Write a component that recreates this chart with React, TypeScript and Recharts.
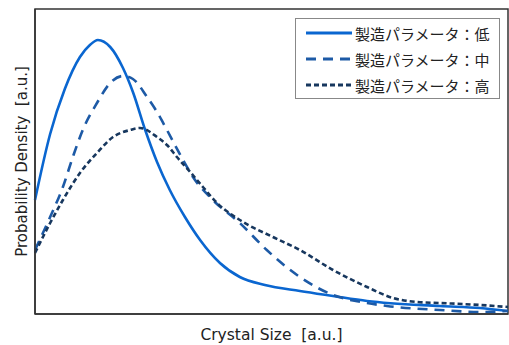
import { LineChart, Line, XAxis, YAxis, ReferenceArea } from 'recharts';

// crystal size (a.u.) and probability density (a.u.) for each process parameter level
const lowSize = [0, 0.32, 0.63, 0.95, 1.16, 1.33, 1.59, 1.86, 2.07, 2.33, 2.58, 2.85, 3.17, 3.49, 3.91, 4.33, 4.86, 5.6, 6.3, 7.02, 8.56, 9.41, 10];
const lowDensity = [114, 180, 225, 257, 269, 274, 267, 246, 222, 184, 152, 124, 97, 74, 51, 37, 29, 23, 18, 13, 8, 6, 3];

const midSize = [0, 0.32, 0.59, 0.8, 1.01, 1.31, 1.59, 1.86, 2.07, 2.37, 2.58, 2.79, 3.13, 3.34, 3.76, 4.33, 4.9, 5.6, 6.3, 7.02, 7.44, 8.56, 9.41, 10];
const midDensity = [64, 97, 127, 157, 184, 211, 231, 238, 235, 217, 202, 184, 154, 137, 114, 91, 64, 37, 19, 11, 8, 4, 2, 3];

const highSize = [0, 0.32, 0.59, 0.95, 1.31, 1.65, 2.01, 2.22, 2.58, 2.79, 3.0, 3.28, 3.55, 3.85, 4.33, 5.03, 5.6, 6.3, 7.02, 7.57, 8.08, 8.56, 9.41, 10];
const highDensity = [61, 91, 114, 141, 161, 177, 184, 186, 177, 169, 157, 142, 127, 111, 94, 77, 64, 44, 27, 16, 12, 11, 9, 7];

const series = [
    { key: 'low', name: '製造パラメータ：低', color: '#0a66d0', dash: undefined, sizes: lowSize, values: lowDensity },
    { key: 'mid', name: '製造パラメータ：中', color: '#1d5aa6', dash: '10 7', sizes: midSize, values: midDensity },
    { key: 'high', name: '製造パラメータ：高', color: '#17375e', dash: '5 3', sizes: highSize, values: highDensity },
];

const font = '"Open Sans", "Noto Sans CJK JP", sans-serif';
const axisFont = '"DejaVu Sans", sans-serif';

function LegendBox() {
    return (
        <div
            style={{
                position: 'absolute',
                left: 295,
                top: 18,
                width: 205,
                height: 81,
                border: '1px solid #888',
                background: '#fff',
                boxSizing: 'border-box',
                fontFamily: font,
                fontSize: 15,
                color: '#222',
            }}
        >
            {series.map((s, i) => (
                <div key={s.key} style={{ position: 'absolute', left: 10, top: 3 + i * 26, height: 22, display: 'flex', alignItems: 'center' }}>
                    <svg width={46} height={6}>
                        <line x1={0} y1={3} x2={46} y2={3} stroke={s.color} strokeWidth={3} strokeDasharray={s.dash} />
                    </svg>
                    <span style={{ marginLeft: 3, whiteSpace: 'nowrap' }}>{s.name}</span>
                </div>
            ))}
        </div>
    );
}

const YLabel = ({ viewBox }: any) => {
    const cx = 22;
    const cy = viewBox.y + viewBox.height / 2;
    return (
        <text x={cx} y={cy} transform={`rotate(-90 ${cx} ${cy})`} textAnchor="middle" dominantBaseline="central" fill="#222" fontSize={15} fontFamily={axisFont}>
            {'Probability Density\u00a0\u00a0[a.u.]'}
        </text>
    );
};

export default function App() {
    return (
        <div style={{ position: 'absolute', left: 0, top: 0, width: 509, height: 345, background: '#fff' }}>
            <LineChart width={509} height={345} margin={{ top: 9, right: 1, left: 0, bottom: 0 }}>
                <XAxis
                    dataKey="x"
                    type="number"
                    domain={[0, 10]}
                    tick={false}
                    tickLine={false}
                    height={31}
                    axisLine={{ stroke: '#333', strokeWidth: 1.5 }}
                    label={{ value: 'Crystal Size\u00a0\u00a0[a.u.]', position: 'insideBottom', offset: 5, fill: '#222', fontSize: 15.5, fontFamily: axisFont }}
                />
                <YAxis
                    type="number"
                    domain={[0, 305]}
                    tick={false}
                    tickLine={false}
                    width={35}
                    axisLine={{ stroke: '#333', strokeWidth: 1.5 }}
                    label={<YLabel />}
                />
                <ReferenceArea x1={0} x2={10} y1={0} y2={305} fill="none" stroke="#333" strokeWidth={1.5} />
                {series.map((s) => (
                    <Line
                        key={s.key}
                        data={s.sizes.map((x, i) => ({ x, y: s.values[i] }))}
                        type="monotone"
                        dataKey="y"
                        name={s.name}
                        stroke={s.color}
                        strokeWidth={2.6}
                        strokeDasharray={s.dash}
                        dot={false}
                        isAnimationActive={false}
                    />
                ))}
            </LineChart>
            <LegendBox />
        </div>
    );
}
